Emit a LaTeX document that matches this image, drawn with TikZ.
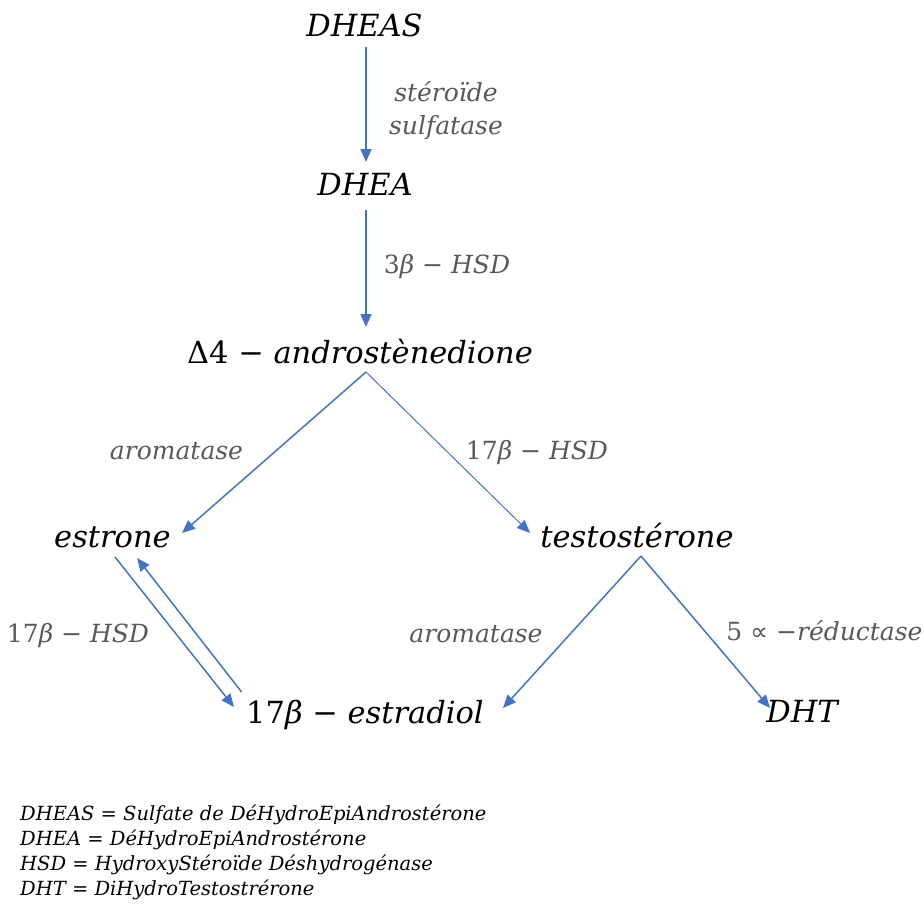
\documentclass[tikz,border=0pt]{standalone}
\usepackage{fontspec}
\setmainfont{DejaVu Serif}
\newfontfamily\symfont{DejaVu Sans}
\usetikzlibrary{arrows.meta,calc}
\definecolor{flow}{HTML}{4472C4}
\definecolor{enz}{HTML}{595959}
\begin{document}
\begin{tikzpicture}[x=1pt,y=1pt,
  compound/.style={font=\fontsize{30.5}{36}\selectfont\itshape, inner sep=0pt, anchor=base},
  enzyme/.style={font=\fontsize{25}{33}\selectfont\itshape, text=enz, inner sep=0pt, anchor=base, align=center},
  legendline/.style={font=\fontsize{19.5}{25}\selectfont\itshape, inner sep=0pt, anchor=base west},
  flowarrow/.style={draw=flow, line width=1.5pt, -{Triangle[length=13pt,width=11pt]}},
  thinarrow/.style={flowarrow, line width=1pt},
]
\fill[white] (0,0) rectangle (924,-903);
\useasboundingbox (0,0) rectangle (924,-903);

% metabolites
\node[compound] (dheas)     at (364.5,-36)  {DHEAS};
\node[compound] (dhea)      at (365,-195)   {DHEA};
\node[compound] (andro)     at (360,-363)   {{\upshape Δ4} − androstènedione};
\node[compound] (estrone)   at (112.5,-547) {estrone};
\node[compound] (testo)     at (637,-547)   {testostérone};
\node[compound] (estradiol) at (365,-723)   {{\upshape 17}β − estradiol};
\node[compound] (dht)       at (802,-722)   {DHT};

% enzymes
\node[enzyme, anchor=center] (sulf) at (446,-111) {stéroïde\\sulfatase};
\node[enzyme] (hsd3)    at (447,-273)   {{\upshape 3}β − HSD};
\node[enzyme] (arom1)   at (176.5,-459) {aromatase};
\node[enzyme] (hsd17a)  at (537,-459)   {{\upshape 17}β − HSD};
\node[enzyme] (hsd17b)  at (78,-642)    {{\upshape 17}β − HSD};
\node[enzyme] (arom2)   at (476,-642)   {aromatase};
\node[enzyme] (red5)    at (824.5,-640) {{\upshape 5} {\symfont ∝} −réductase};

% reactions
\draw[flowarrow] ($(dheas.base)+(1.5,-11)$) -- ($(dhea.base)+(1,33)$);
\draw[flowarrow] ($(dhea.base)+(1,-15)$) -- ($(andro.base)+(6,36)$);
\draw[flowarrow] ($(andro.base)+(6,-9)$) -- ($(estrone.base)+(69.5,14)$);
\draw[thinarrow] ($(andro.base)+(6,-9)$) -- ($(testo.base)+(-107,14)$);
\draw[flowarrow] ($(estrone.base)+(2.5,-10)$) -- ($(estradiol.base)+(-131,16)$);
\draw[flowarrow] ($(estradiol.base)+(-123.4,31)$) -- ($(estrone.base)+(24.5,-11)$);
\draw[flowarrow] ($(testo.base)+(4,-9)$) -- ($(estradiol.base)+(138,15)$);
\draw[flowarrow] ($(testo.base)+(4,-9)$) -- ($(dht.base)+(-32,14)$);

% abbreviations
\node[legendline] (leg1) at (20,-820) {DHEAS = Sulfate de DéHydroEpiAndrostérone};
\node[legendline] (leg2) at (20,-845) {DHEA = DéHydroEpiAndrostérone};
\node[legendline] (leg3) at (20,-870) {HSD = HydroxyStéroïde Déshydrogénase};
\node[legendline] (leg4) at (20,-895) {DHT = DiHydroTestostrérone};
\end{tikzpicture}
\end{document}
